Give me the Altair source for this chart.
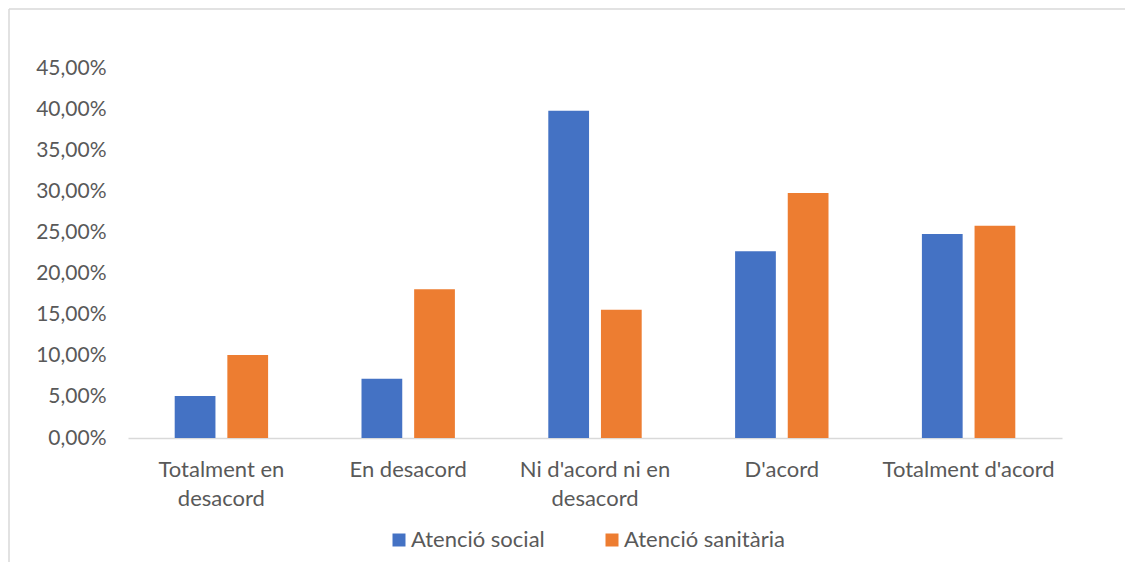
import altair as alt
import pandas as pd

categories = ["Totalment en desacord", "En desacord", "Ni d'acord ni en desacord", "D'acord", "Totalment d'acord"]
label_lines = [["Totalment en", "desacord"], ["En desacord"], ["Ni d'acord ni en", "desacord"], ["D'acord"], ["Totalment d'acord"]]
series = ["Atenció social", "Atenció sanitària"]
social = [5.1, 7.2, 39.8, 22.7, 24.8]
sanitaria = [10.1, 18.1, 15.6, 29.8, 25.8]
colors = ["#4472C4", "#ED7D31"]
y_ticks = [0, 5, 10, 15, 20, 25, 30, 35, 40, 45]

rows = []
for i, c in enumerate(categories):
    rows.append({"cat": c, "serie": series[0], "val": social[i]})
    rows.append({"cat": c, "serie": series[1], "val": sanitaria[i]})
df = pd.DataFrame(rows)

expr_parts = []
for c, lines in zip(categories, label_lines):
    cq = c.replace("'", "\\'")
    arr = "[" + ",".join("'" + l.replace("'", "\\'") + "'" for l in lines) + "]"
    expr_parts.append(f"datum.label == '{cq}' ? {arr}")
label_expr = " : ".join(expr_parts) + " : datum.label"

font = "Lato"
fs_y = 21
fs_x = 22
txt = "#595959"

bars = alt.Chart(df).mark_bar().encode(
    x=alt.X("cat:N", sort=categories, title=None,
            scale=alt.Scale(paddingInner=0.5, paddingOuter=0.25),
            axis=alt.Axis(labelAngle=0, labelExpr=label_expr, ticks=False,
                          domainColor="#d9d9d9", domainWidth=1.5, labelFontSize=fs_x,
                          labelColor=txt, labelFont=font, labelPadding=31,
                          labelLineHeight=29, labelLimit=300, labelBaseline="middle")),
    xOffset=alt.XOffset("serie:N", sort=series,
                        scale=alt.Scale(paddingInner=0.226, paddingOuter=0)),
    y=alt.Y("val:Q", title=None,
            scale=alt.Scale(domain=[0, 45], nice=False),
            axis=alt.Axis(values=y_ticks, grid=False, domain=False, ticks=False,
                          labelExpr="replace(format(datum.value, '.2f'), '.', ',') + '%'",
                          labelFontSize=fs_y, labelColor=txt, labelFont=font, labelPadding=22)),
    color=alt.Color("serie:N", sort=series,
                    scale=alt.Scale(domain=series, range=colors),
                    legend=alt.Legend(title=None, orient="none", direction="horizontal",
                                      legendX=260, legendY=461, symbolType="square",
                                      symbolSize=169, symbolStrokeWidth=0,
                                      labelFontSize=fs_x, labelColor=txt, labelFont=font,
                                      labelLimit=400, columnPadding=56, labelOffset=1)),
)

frame_df = pd.DataFrame({"k": ["frame"]})
top_line = alt.Chart(frame_df).mark_rule(stroke="#d9d9d9", strokeWidth=1.5).encode(
    x=alt.value(-119), x2=alt.value(997), y=alt.value(-59)
)
left_line = alt.Chart(frame_df).mark_rule(stroke="#d9d9d9", strokeWidth=1.5).encode(
    x=alt.value(-119), y=alt.value(-59), y2=alt.value(500)
)

chart = alt.layer(top_line, left_line, bars).properties(
    width=934, height=370,
    background="white",
    autosize=alt.AutoSizeParams(type="none"),
    padding={"left": 120, "top": 60, "right": 63, "bottom": 124},
).configure_view(strokeWidth=0, stroke="transparent")

chart.save("out.html", embed_options={"renderer": "svg", "actions": False})
